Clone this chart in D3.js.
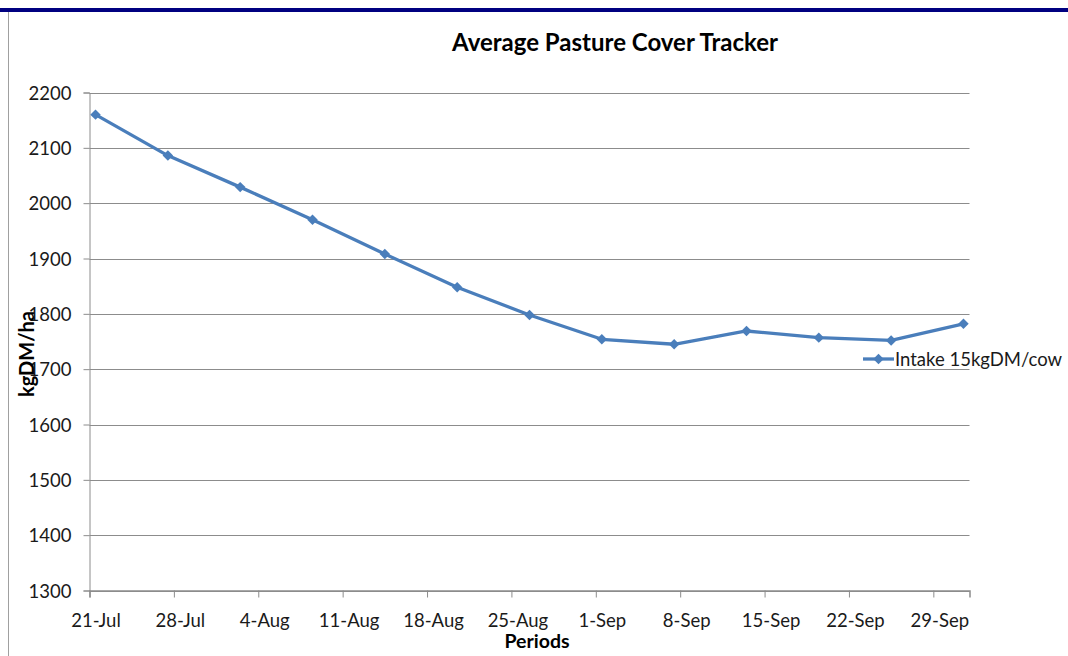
<!DOCTYPE html>
<html><head><meta charset="utf-8">
<script src="https://cdn.jsdelivr.net/npm/d3@7"></script>
<style>body{margin:0;background:#fff;} svg{display:block;} text{font-family:Lato,"Open Sans",sans-serif;}</style>
</head><body><svg id="c" width="1068" height="656"></svg>
<script>
const dates = ["2011-07-21","2011-07-27","2011-08-02","2011-08-08","2011-08-14","2011-08-20","2011-08-26","2011-09-01","2011-09-07","2011-09-13","2011-09-19","2011-09-25","2011-10-01"];
const values = [2160,2086,2029,1970,1908,1848,1798,1754,1745,1769,1757,1752,1782];
const tickDates = ["2011-07-21","2011-07-28","2011-08-04","2011-08-11","2011-08-18","2011-08-25","2011-09-01","2011-09-08","2011-09-15","2011-09-22","2011-09-29"];
const yTicks = [1300,1400,1500,1600,1700,1800,1900,2000,2100,2200];
const seriesName = "Intake 15kgDM/cow";
const title = "Average Pasture Cover Tracker";

(function(){
const svg = d3.select("#c");
const parse = d3.utcParse("%Y-%m-%d");
const fmt = d3.utcFormat("%-d-%b");
const pL = 89.5, pR = 969.5, pT = 92.5, pB = 590.5;
const x = d3.scaleUtc().domain([parse("2011-07-21"), parse("2011-10-02")]).range([pL, pR]);
const y = d3.scaleLinear().domain([1300,2200]).range([pB, pT]);
const half = d => d3.utcHour.offset(d, 12);

svg.append("rect").attr("x",0).attr("y",8).attr("width",1068).attr("height",4).attr("fill","#000080");
svg.append("line").attr("x1",8.5).attr("x2",8.5).attr("y1",12).attr("y2",656).attr("stroke","#a0a0a0");

svg.append("g").selectAll("line").data(yTicks).join("line")
  .attr("x1",pL).attr("x2",pR).attr("y1",d=>Math.round(y(d))+0.5).attr("y2",d=>Math.round(y(d))+0.5)
  .attr("stroke","#8c8c8c").attr("stroke-width",1);

const ya = svg.append("g").attr("transform",`translate(${pL},0)`)
  .call(d3.axisLeft(y).tickValues(yTicks).tickSize(6).tickPadding(12).tickFormat(d3.format("d")));
ya.select(".domain").attr("stroke","#8c8c8c");
ya.selectAll(".tick line").attr("stroke","#8c8c8c");
ya.selectAll("text").attr("font-size",18.5).attr("fill","#1a1a1a").attr("font-family","Lato").attr("dy","0.36em");

const xa = svg.append("g").attr("transform",`translate(0,${pB})`)
  .call(d3.axisBottom(x).tickValues(tickDates.map(parse)).tickSize(7).tickPadding(21).tickFormat(fmt));
xa.select(".domain").attr("stroke","#8c8c8c").attr("stroke-width",1.5);
xa.selectAll(".tick line").attr("stroke","#8c8c8c");
xa.selectAll("text").attr("font-size",18.5).attr("fill","#1a1a1a").attr("font-family","Lato").attr("dx",6).attr("dy","0.45em");

const data = dates.map((d,i)=>({d:parse(d), v:values[i]}));
const blue = "#4a7ebb";
svg.append("path").datum(data)
  .attr("d", d3.line().x(p=>x(half(p.d))).y(p=>y(p.v)))
  .attr("fill","none").attr("stroke",blue).attr("stroke-width",3.3).attr("stroke-linejoin","round");
const diamond = d3.symbol().type(d3.symbolDiamond2).size(70);
svg.append("g").selectAll("path").data(data).join("path")
  .attr("d", diamond).attr("transform",p=>`translate(${x(half(p.d))},${y(p.v)})`)
  .attr("fill",blue);

svg.append("line").attr("x1",863).attr("x2",894).attr("y1",359).attr("y2",359).attr("stroke",blue).attr("stroke-width",3.3);
svg.append("path").attr("d",diamond).attr("transform","translate(878.5,359)").attr("fill",blue);
svg.append("text").attr("x",895).attr("y",366).attr("font-size",18.5).attr("fill","#1a1a1a").text(seriesName);

svg.append("text").attr("x",615).attr("y",51).attr("text-anchor","middle").attr("font-size",24).attr("font-weight","bold").attr("fill","#000").text(title);
svg.append("text").attr("x",537).attr("y",648).attr("text-anchor","middle").attr("font-size",19.5).attr("font-weight","bold").attr("fill","#000").text("Periods");
svg.append("text").attr("transform","translate(34,354) rotate(-90)").attr("text-anchor","middle").attr("font-size",20).attr("font-weight","bold").attr("fill","#000").text("kgDM/ha");
})();
</script></body></html>
